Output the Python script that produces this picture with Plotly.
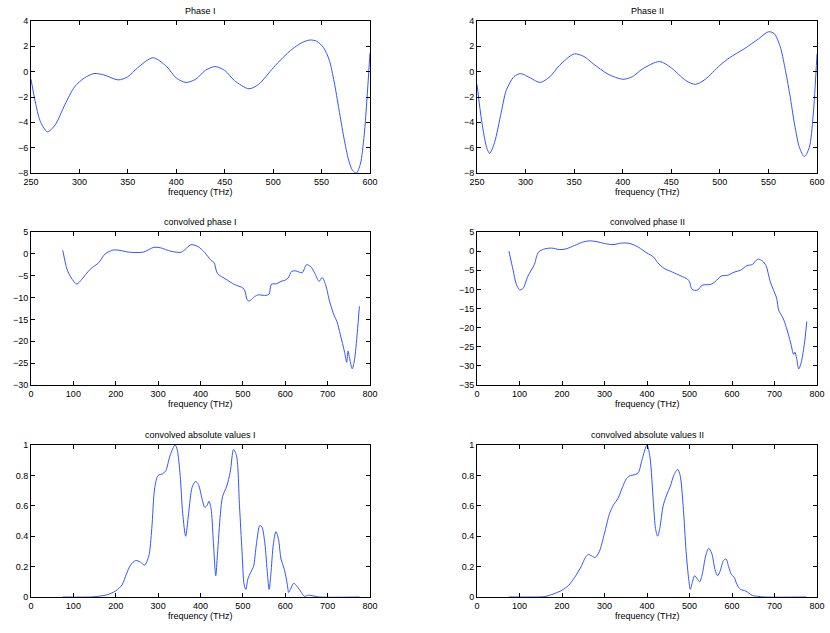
import plotly.graph_objects as go

# Phase I / II (250-600 THz)
phase1_f = [250, 255, 260, 267, 275, 285, 295, 305, 315, 325, 340, 350, 360, 376, 390, 400, 410, 420, 430,
            440, 450, 460, 475, 485, 500, 510, 520, 530, 538, 545, 552, 558, 563, 568, 573, 578, 582, 586,
            590, 594, 597, 600]
phase1_v = [-0.6, -2.6, -4.0, -4.75, -4.2, -2.6, -1.2, -0.5, -0.15, -0.25, -0.65, -0.4, 0.3, 1.1, 0.4,
            -0.5, -0.85, -0.6, 0.1, 0.4, 0.1, -0.7, -1.35, -1.0, 0.3, 1.1, 1.8, 2.3, 2.5, 2.4, 1.9, 0.9,
            -0.8, -3.0, -5.2, -7.0, -7.8, -8.0, -7.3, -5.0, -2.0, 1.5]

phase2_f = [250, 255, 260, 263, 268, 275, 280, 288, 295, 305, 315, 325, 335, 350, 360, 370, 385, 400, 410,
            420, 438, 450, 465, 475, 485, 500, 510, 525, 540, 550, 556, 562, 567, 572, 577, 582, 587, 592,
            596, 600]
phase2_v = [-1.0, -4.0, -6.0, -6.45, -5.6, -3.2, -1.5, -0.4, -0.15, -0.5, -0.85, -0.4, 0.5, 1.4, 1.2, 0.6,
            -0.2, -0.6, -0.4, 0.2, 0.8, 0.3, -0.7, -1.0, -0.6, 0.5, 1.1, 1.8, 2.6, 3.15, 3.0, 2.0, 0.3,
            -1.8, -4.2, -6.0, -6.7, -6.0, -3.5, 1.4]

# convolved phase (75-775 THz)
conv1_f = [75, 85, 95, 108, 120, 140, 160, 175, 195, 210, 230, 265, 290, 305, 330, 355, 378, 395, 410, 425,
           432, 440, 460, 480, 500, 505, 510, 515, 525, 535, 555, 562, 567, 580, 590, 600, 607, 615, 625,
           640, 650, 660, 670, 680, 687, 695, 705, 715, 722, 730, 740, 745, 748, 752, 758, 763, 770, 775]
conv1_v = [0.8, -3.5, -5.5, -6.9, -5.8, -3.5, -2.0, 0.0, 0.9, 0.8, 0.4, 0.4, 1.5, 1.4, 0.6, 0.4, 2.1, 1.6,
           0.3, -1.5, -2.0, -4.5, -5.8, -7.0, -7.8, -8.5, -10.5, -10.8, -10.0, -9.4, -9.5, -9.2, -7.0, -6.8,
           -6.3, -6.0, -5.5, -4.0, -3.9, -4.3, -2.5, -2.9, -4.5, -6.3, -5.4, -7.0, -11.0, -14.0, -15.5,
           -18.5, -22.5, -24.8, -22.2, -24.0, -26.3, -24.5, -18.0, -12.0]

conv2_f = [75, 85, 92, 100, 108, 120, 135, 140, 145, 160, 175, 195, 210, 230, 250, 265, 280, 300, 320, 340,
           360, 380, 400, 415, 425, 440, 460, 480, 495, 500, 505, 512, 520, 530, 550, 560, 575, 590, 605,
           620, 635, 648, 655, 662, 672, 680, 690, 697, 705, 710, 720, 728, 738, 745, 748, 752, 757, 762,
           770, 776]
conv2_v = [0.0, -5.0, -8.5, -10.1, -9.8, -6.5, -3.5, -1.5, -0.2, 0.6, 0.8, 0.4, 0.6, 1.5, 2.4, 2.7, 2.5,
           2.0, 1.7, 2.1, 2.0, 1.0, -0.5, -1.5, -3.0, -4.5, -5.5, -6.5, -7.3, -8.0, -9.8, -10.3, -10.1,
           -8.9, -8.7, -8.0, -6.5, -6.3, -5.5, -5.0, -3.8, -3.5, -2.6, -2.1, -2.6, -3.8, -8.0, -10.0, -12.3,
           -15.5, -17.5, -20.0, -24.0, -27.0, -26.4, -28.0, -30.8, -29.5, -24.5, -18.4]

# convolved absolute values (75-775 THz)
abs1_f = [75, 140, 160, 180, 200, 215, 225, 235, 247, 258, 268, 278, 285, 292, 300, 310, 318, 328, 340, 345,
          352, 358, 365, 372, 380, 388, 395, 405, 410, 415, 420, 425, 430, 436, 440, 447, 452, 462, 470, 478,
          485, 492, 498, 503, 507, 512, 518, 525, 532, 540, 545, 552, 558, 562, 566, 572, 578, 584, 590,
          598, 605, 608, 612, 620, 628, 638, 645, 655, 665, 680, 775]
abs1_v = [0, 0, 0.005, 0.015, 0.04, 0.08, 0.15, 0.21, 0.24, 0.23, 0.21, 0.27, 0.45, 0.72, 0.80, 0.81, 0.83,
          0.93, 1.0, 0.97, 0.8, 0.55, 0.40, 0.55, 0.72, 0.76, 0.74, 0.63, 0.59, 0.60, 0.63, 0.58, 0.38,
          0.14, 0.28, 0.55, 0.66, 0.73, 0.82, 0.97, 0.93, 0.6, 0.3, 0.08, 0.05, 0.12, 0.16, 0.2, 0.35,
          0.47, 0.46, 0.35, 0.15, 0.05, 0.15, 0.35, 0.43, 0.38, 0.25, 0.18, 0.08, 0.03, 0.05, 0.09, 0.07,
          0.03, 0.005, 0.012, 0.008, 0, 0]

abs2_f = [75, 140, 160, 180, 200, 215, 230, 245, 255, 262, 270, 278, 288, 300, 312, 322, 332, 342, 352, 362,
          372, 380, 388, 400, 407, 415, 420, 425, 430, 438, 446, 455, 463, 472, 478, 485, 492, 498, 502,
          507, 512, 518, 524, 530, 538, 545, 552, 560, 566, 572, 580, 586, 592, 598, 605, 612, 620, 632,
          640, 648, 660, 675, 775]
abs2_v = [0, 0, 0.003, 0.02, 0.045, 0.075, 0.13, 0.2, 0.26, 0.28, 0.27, 0.26, 0.3, 0.42, 0.55, 0.61, 0.65,
          0.72, 0.78, 0.80, 0.805, 0.82, 0.9, 1.0, 0.92, 0.62, 0.45, 0.40, 0.45, 0.6, 0.67, 0.73, 0.80,
          0.84, 0.8, 0.6, 0.3, 0.12, 0.05, 0.10, 0.14, 0.12, 0.10, 0.15, 0.27, 0.32, 0.29, 0.18, 0.14,
          0.17, 0.24, 0.25, 0.2, 0.15, 0.13, 0.08, 0.05, 0.04, 0.025, 0.01, 0.005, 0, 0]

titles = ['Phase I', 'Phase II', 'convolved phase I', 'convolved phase II',
          'convolved absolute values I', 'convolved absolute values II']
series = [(phase1_f, phase1_v), (phase2_f, phase2_v), (conv1_f, conv1_v),
          (conv2_f, conv2_v), (abs1_f, abs1_v), (abs2_f, abs2_v)]

W, H = 830, 633
col_px = [(31, 370), (477, 817)]
row_px = [(21, 173), (232, 385), (445, 597)]
xranges = [[250, 600], [250, 600], [0, 800], [0, 800], [0, 800], [0, 800]]
xdticks = [50, 50, 100, 100, 100, 100]
yranges = [[-8, 4], [-8, 4], [-30, 5], [-35, 5], [0, 1], [0, 1]]
ydticks = [2, 2, 5, 5, 0.2, 0.2]

font = dict(family='Liberation Sans, Arial, sans-serif', size=9, color='black')
line_color = '#3355ff'

fig = go.Figure()
layout = dict(width=W, height=H, margin=dict(l=0, r=0, t=0, b=0), template='none',
              paper_bgcolor='white', plot_bgcolor='white', showlegend=False, font=font)
annotations = []

for i, (fx, fv) in enumerate(series):
    r, c = divmod(i, 2)
    n = '' if i == 0 else str(i + 1)
    x0, x1 = col_px[c]
    y0, y1 = row_px[r]
    axis_style = dict(showline=True, linecolor='black', linewidth=1, mirror='ticks', ticks='inside',
                      ticklen=4, tickcolor='black', showgrid=False, zeroline=False, tickfont=font,
                      automargin=False)
    layout['xaxis' + n] = dict(axis_style, domain=[x0 / W, x1 / W], range=xranges[i], dtick=xdticks[i],
                               tick0=0, anchor='y' + n)
    layout['yaxis' + n] = dict(axis_style, domain=[1 - y1 / H, 1 - y0 / H], range=yranges[i],
                               dtick=ydticks[i], tick0=0, anchor='x' + n)
    fig.add_trace(go.Scatter(x=fx, y=fv, mode='lines', xaxis='x' + n, yaxis='y' + n,
                             line=dict(color=line_color, width=1, shape='spline', smoothing=0.8)))
    cx = (x0 + x1) / 2 / W
    annotations.append(dict(text=titles[i], x=cx, y=1 - (y0 - 10) / H, xref='paper', yref='paper',
                            showarrow=False, xanchor='center', yanchor='middle', font=font))
    annotations.append(dict(text='frequency (THz)', x=cx, y=1 - (y1 + 12) / H, xref='paper', yref='paper',
                            showarrow=False, xanchor='center', yanchor='top', font=font))

layout['annotations'] = annotations
fig.update_layout(**layout)
fig.write_html("out.html", config={'displayModeBar': False},
               post_script="document.body.style.margin='0';")
